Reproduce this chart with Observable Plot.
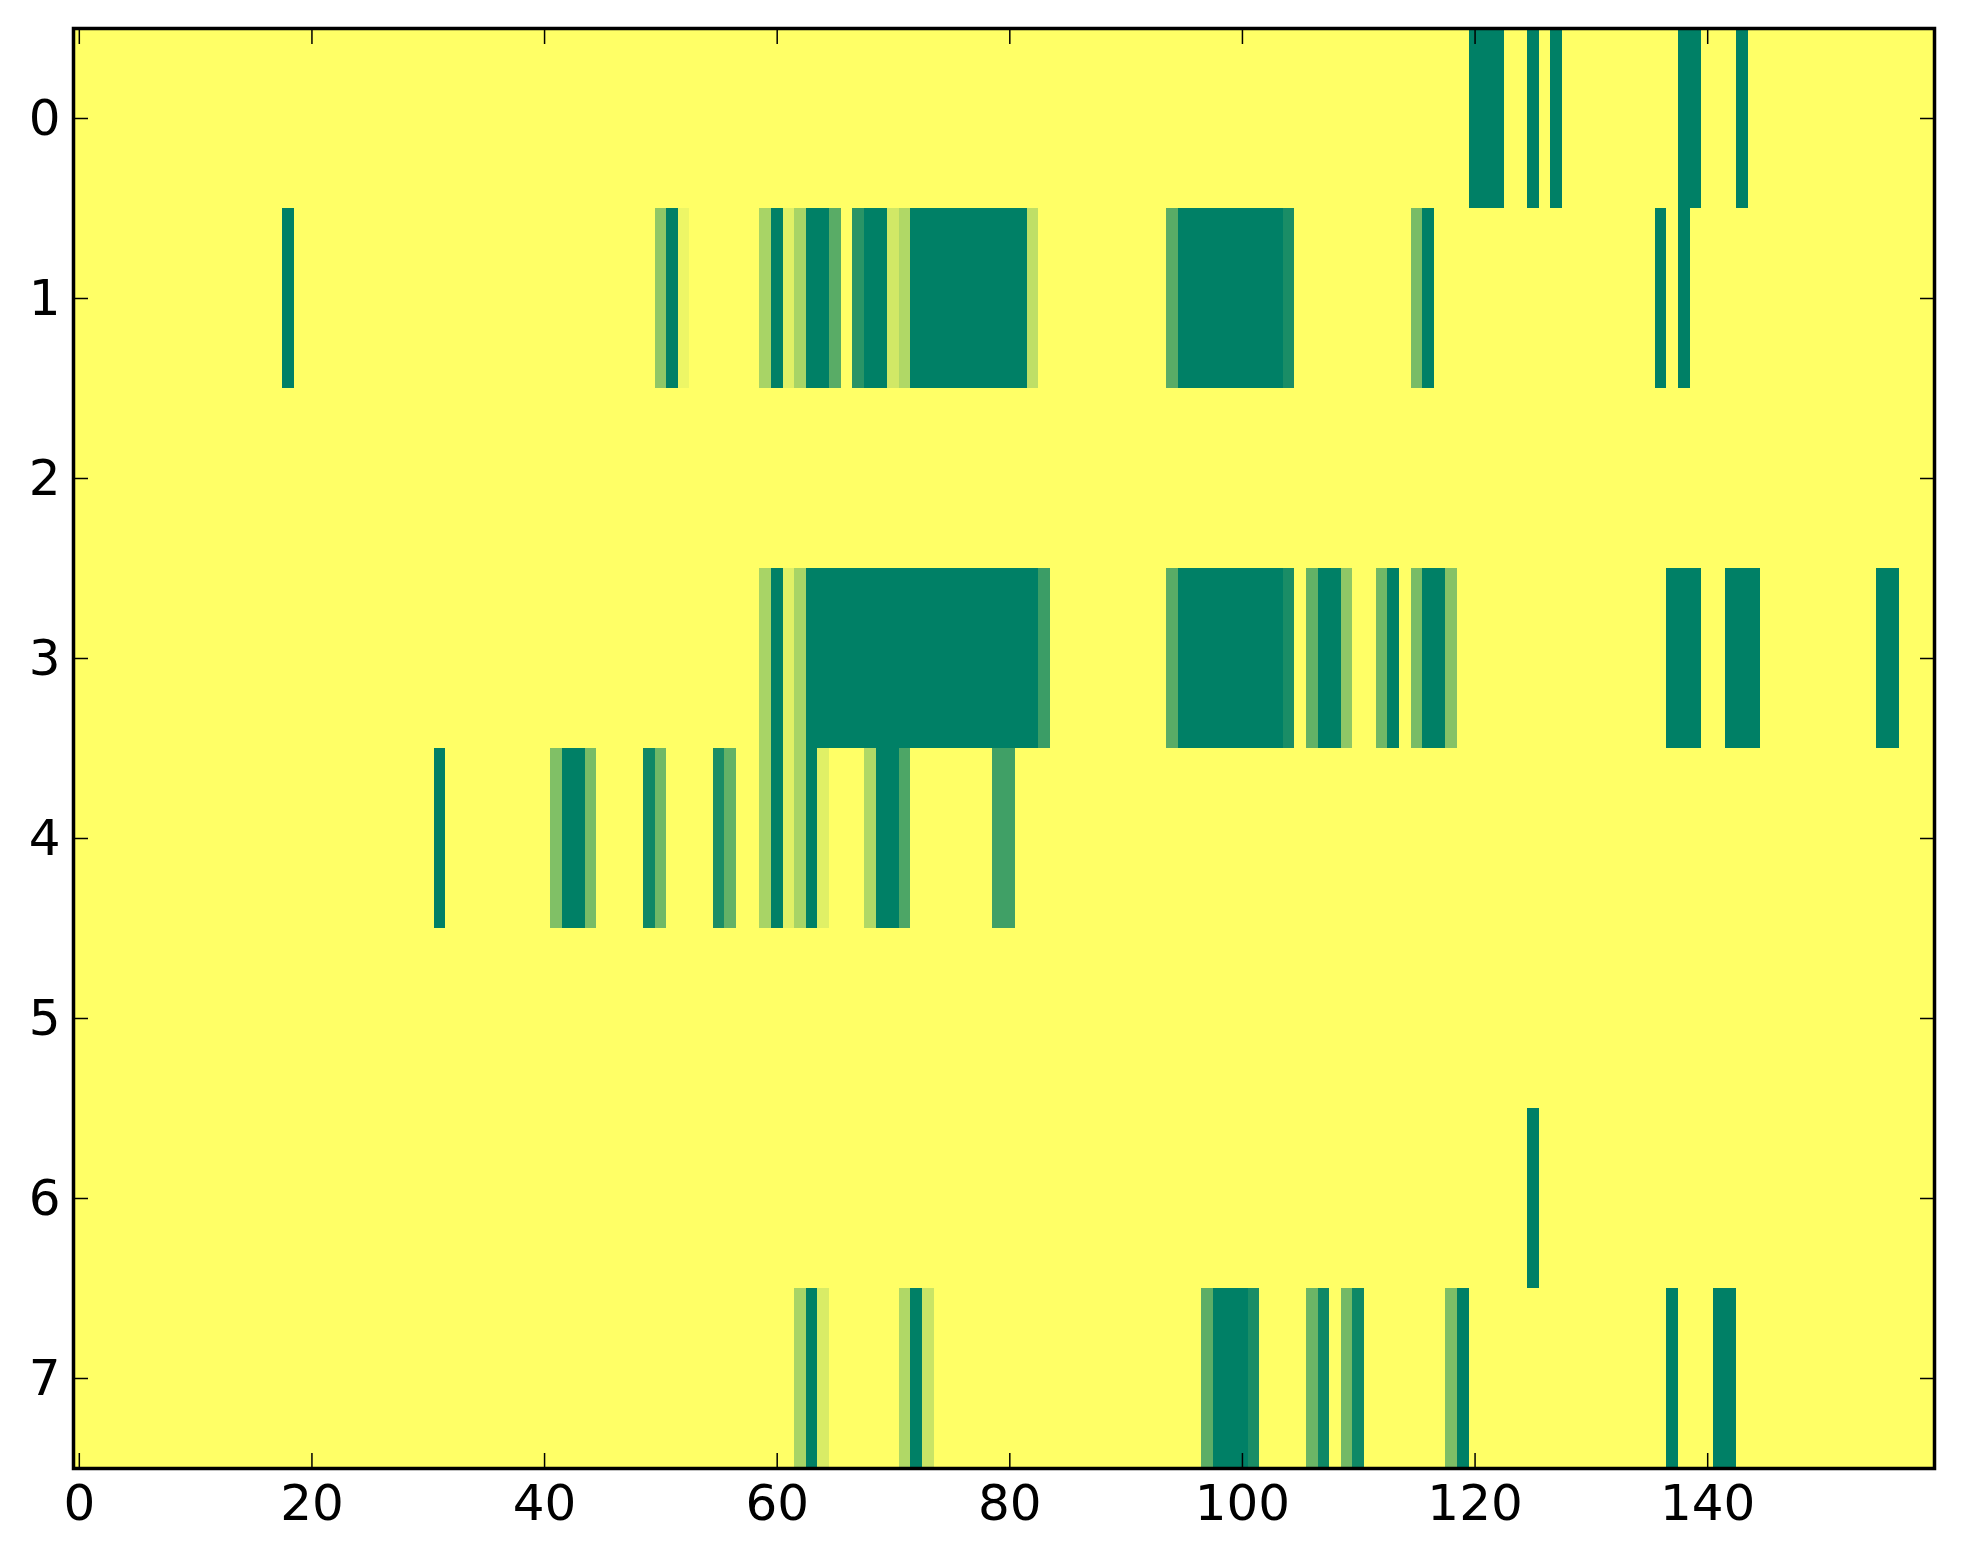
<!DOCTYPE html>
<html><head><meta charset="utf-8">
<script src="https://cdn.jsdelivr.net/npm/d3@7"></script>
<script src="https://cdn.jsdelivr.net/npm/@observablehq/plot@0.6"></script>
<style>html,body{margin:0;padding:0;background:#fff;} svg{display:block;}</style>
</head><body><div id="chart"></div>
<script>
const nCols = 160;
const rowLabels = [0, 1, 2, 3, 4, 5, 6, 7];
const xTicks = [0, 20, 40, 60, 80, 100, 120, 140];
// runs per row: [firstCol, lastCol, value]
const row0 = [[120,122,1],[125,125,1],[127,127,1],[138,139,1],[143,143,1]];
const row1 = [[18,18,1],[50,50,0.44],[51,51,1],[52,52,0.07],[59,59,0.34],[60,60,1],[61,61,0.12],[62,62,0.34],[63,64,1],[65,65,0.65],[67,67,0.84],[68,69,1],[70,70,0.18],[71,71,0.31],[72,81,1],[82,82,0.25],[94,94,0.65],[95,103,1],[104,104,0.9],[115,115,0.53],[116,116,1],[136,136,1],[138,138,1]];
const row2 = [];
const row3 = [[59,59,0.34],[60,60,1],[61,61,0.12],[62,62,0.34],[63,82,1],[83,83,0.77],[94,94,0.65],[95,103,1],[104,104,0.9],[106,106,0.61],[107,108,1],[109,109,0.44],[112,112,0.56],[113,113,1],[115,115,0.53],[116,117,1],[118,118,0.48],[137,139,1],[142,144,1],[155,156,1]];
const row4 = [[31,31,1],[41,41,0.5],[42,43,1],[44,44,0.53],[49,49,0.94],[50,50,0.56],[55,55,0.9],[56,56,0.61],[59,59,0.34],[60,60,1],[61,61,0.12],[62,62,0.34],[63,63,1],[64,64,0.12],[68,68,0.31],[69,70,1],[71,71,0.7],[79,80,0.75]];
const row5 = [];
const row6 = [[125,125,1]];
const row7 = [[62,62,0.34],[63,63,1],[64,64,0.15],[71,71,0.31],[72,72,1],[73,73,0.21],[97,97,0.64],[98,100,1],[101,101,0.9],[106,106,0.58],[107,107,0.94],[109,109,0.55],[110,110,0.94],[118,118,0.51],[119,119,1],[137,137,1],[141,142,1]];

const rows = [row0, row1, row2, row3, row4, row5, row6, row7];
const cells = [];
rows.forEach((runs, r) => {
  const vals = new Array(nCols).fill(0);
  for (const [a, b, v] of runs) for (let c = a; c <= b; c++) vals[c] = v;
  vals.forEach((v, c) => cells.push({row: r, col: c, v}));
});

const chart = Plot.plot({
  width: 1963, height: 1564,
  marginLeft: 73, marginRight: 29, marginTop: 28, marginBottom: 96,
  x: {domain: [-0.5, nCols - 0.5], label: null},
  y: {domain: [rows.length - 0.5, -0.5], label: null},
  color: {type: "linear", domain: [0, 1], range: ["#ffff66", "#008066"], interpolate: "rgb"},
  style: {fontFamily: "DejaVu Sans", fontSize: "50px", color: "black", background: "white"},
  marks: [
    Plot.rect(cells, {x1: d => d.col - 0.5, x2: d => d.col + 0.5, y1: d => d.row - 0.5, y2: d => d.row + 0.5, fill: "v", shapeRendering: "crispEdges"}),
    Plot.axisX(xTicks, {anchor: "bottom", tickSize: 0, tickPadding: 16, fontSize: 50, tickFormat: d => String(d), label: null}),
    Plot.axisX(xTicks, {anchor: "bottom", tickSize: -15, tickFormat: () => "", strokeWidth: 1.5, label: null}),
    Plot.axisX(xTicks, {anchor: "top", tickSize: -15, tickFormat: () => "", strokeWidth: 1.5, label: null}),
    Plot.axisY(rowLabels, {anchor: "left", tickSize: 0, tickPadding: 13, fontSize: 50, tickFormat: d => String(d), label: null}),
    Plot.axisY(rowLabels, {anchor: "left", tickSize: -15, tickFormat: () => "", strokeWidth: 1.5, label: null}),
    Plot.axisY(rowLabels, {anchor: "right", tickSize: -15, tickFormat: () => "", strokeWidth: 1.5, label: null}),
    Plot.frame({stroke: "black", strokeWidth: 3.5})
  ]
});
document.getElementById("chart").appendChild(chart);
</script>
</body></html>
